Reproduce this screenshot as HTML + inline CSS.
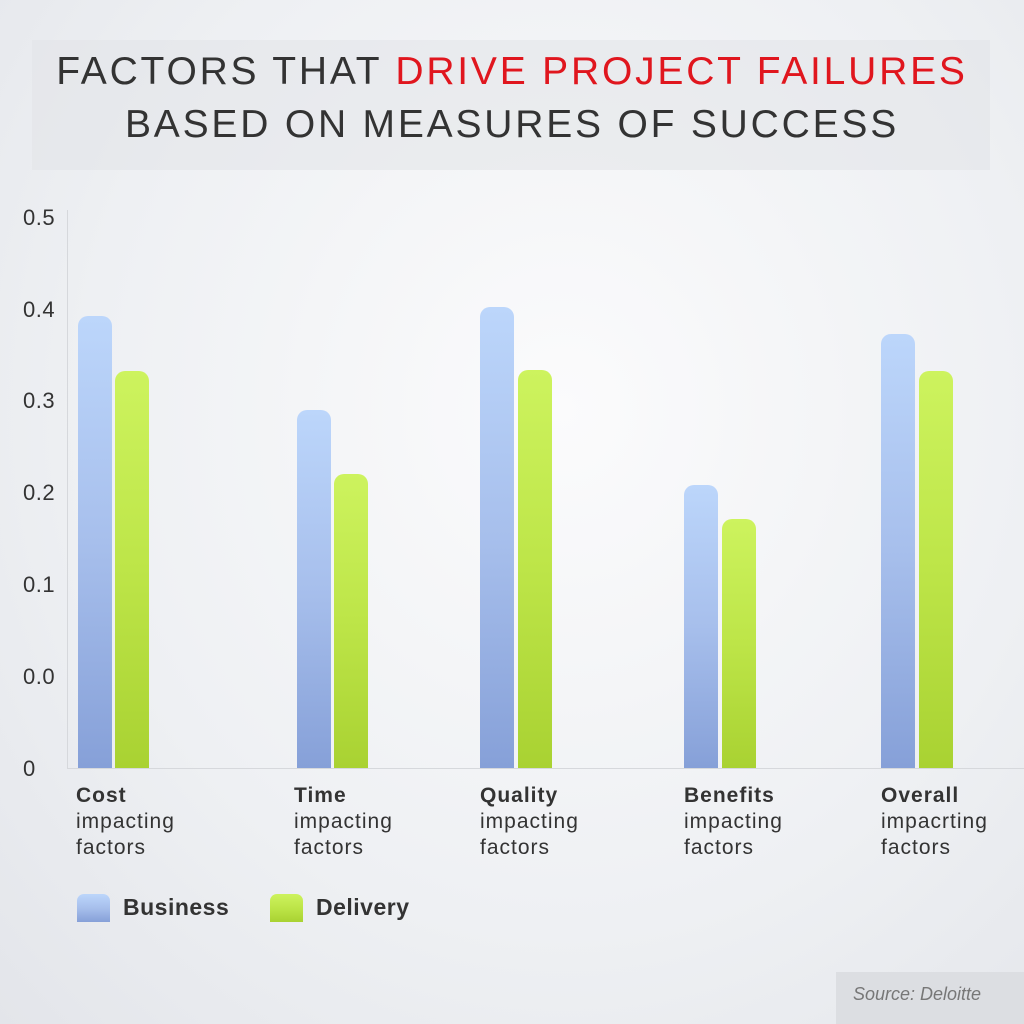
<!DOCTYPE html>
<html><head><style>
body{margin:0;width:1024px;height:1024px;overflow:hidden;background:radial-gradient(ellipse at 55% 40%,#fbfbfc 0%,#eef0f3 60%,#e3e5ea 100%);font-family:"Liberation Sans",sans-serif;position:relative}
.t{position:absolute;left:0;width:1024px;text-align:center;font-size:39px;color:#333;letter-spacing:2.8px;font-weight:300}
.box{position:absolute;left:32px;top:40px;width:958px;height:130px;background:rgba(225,227,231,0.55)}
.yl{position:absolute;left:23px;font-size:22px;color:#333;letter-spacing:0.5px}
.b{position:absolute;width:34px;bottom:256px;border-radius:10px 10px 0 0}
.bu{background:linear-gradient(#bcd6fb,#a7bfec 50%,#86a0d8)}
.de{background:linear-gradient(#cdf35e,#bde548 50%,#a9d232)}
.xl{position:absolute;top:783px;font-size:21px;color:#333;line-height:26px;letter-spacing:1px}
.xl b{font-weight:bold}
</style></head><body>
<div class="box"></div>
<div class="t" style="top:50px">FACTORS THAT <span style="color:#e0161e">DRIVE PROJECT FAILURES</span></div>
<div class="t" style="top:103px">BASED ON MEASURES OF SUCCESS</div>
<div class="yl" style="top:205px">0.5</div>
<div class="yl" style="top:297px">0.4</div>
<div class="yl" style="top:388px">0.3</div>
<div class="yl" style="top:480px">0.2</div>
<div class="yl" style="top:572px">0.1</div>
<div class="yl" style="top:664px">0.0</div>
<div class="yl" style="top:756px">0</div>
<div style="position:absolute;left:67px;top:210px;width:1px;height:558px;background:#d6d8dc"></div>
<div style="position:absolute;left:67px;top:768px;width:957px;height:1px;background:#d6d8dc"></div>
<div class="b bu" style="left:78px;top:316px"></div><div class="b de" style="left:115px;top:371px"></div>
<div class="b bu" style="left:297px;top:410px"></div><div class="b de" style="left:334px;top:474px"></div>
<div class="b bu" style="left:480px;top:307px"></div><div class="b de" style="left:518px;top:370px"></div>
<div class="b bu" style="left:684px;top:485px"></div><div class="b de" style="left:722px;top:519px"></div>
<div class="b bu" style="left:881px;top:334px"></div><div class="b de" style="left:919px;top:371px"></div>
<div class="xl" style="left:76px"><b>Cost</b><br>impacting<br>factors</div>
<div class="xl" style="left:294px"><b>Time</b><br>impacting<br>factors</div>
<div class="xl" style="left:480px"><b>Quality</b><br>impacting<br>factors</div>
<div class="xl" style="left:684px"><b>Benefits</b><br>impacting<br>factors</div>
<div class="xl" style="left:881px"><b>Overall</b><br>impacrting<br>factors</div>
<div style="position:absolute;left:77px;top:894px;width:33px;height:28px;border-radius:7px 7px 0 0" class="bu"></div>
<div style="position:absolute;left:123px;top:894px;font-size:23px;font-weight:bold;color:#333;letter-spacing:0.5px">Business</div>
<div style="position:absolute;left:270px;top:894px;width:33px;height:28px;border-radius:7px 7px 0 0" class="de"></div>
<div style="position:absolute;left:316px;top:894px;font-size:23px;font-weight:bold;color:#333;letter-spacing:0.5px">Delivery</div>
<div style="position:absolute;left:836px;top:972px;width:188px;height:52px;background:#dcdee2"></div>
<div style="position:absolute;left:853px;top:984px;font-size:18px;font-style:italic;color:#777">Source: Deloitte</div>
</body></html>
